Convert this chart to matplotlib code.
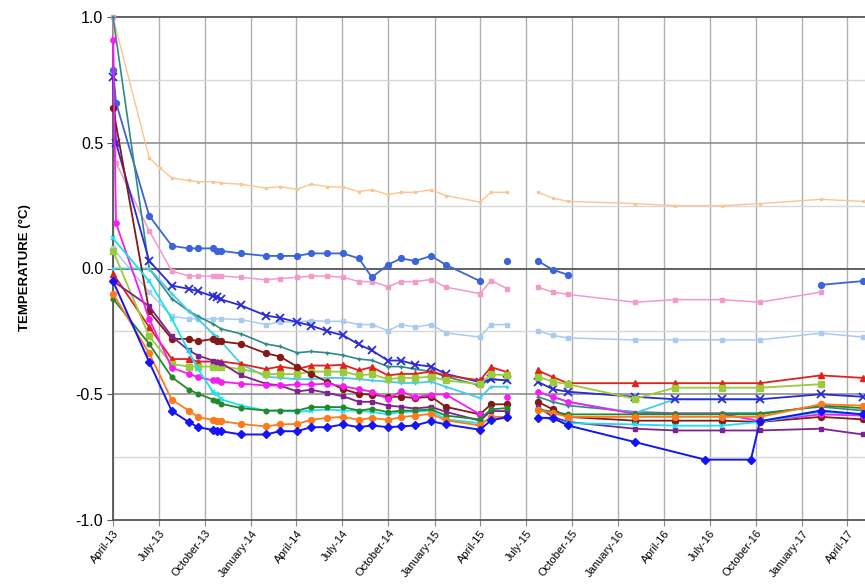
import numpy as np
import pandas as pd
import matplotlib
matplotlib.use('Agg')
import matplotlib.pyplot as plt

plt.rcParams['font.family'] = ['Liberation Sans', 'DejaVu Sans']
plt.rcParams['axes.unicode_minus'] = False

N = None          # no reading on that date (line joins across)
nan = np.nan      # break in the record (line stops)

# measurement dates
dates = pd.to_datetime([
    '2013-04-01', '2013-04-07', '2013-06-12', '2013-07-03', '2013-07-27', '2013-08-30',
    '2013-09-17', '2013-10-17', '2013-10-25', '2013-11-02', '2013-12-12', '2014-01-30',
    '2014-02-27', '2014-04-02', '2014-04-30', '2014-06-01', '2014-07-03', '2014-08-03',
    '2014-08-29', '2014-09-30', '2014-10-26', '2014-11-23', '2014-12-25', '2015-01-23',
    '2015-04-01', '2015-04-23', '2015-05-25', '2015-06-25', '2015-07-25', '2015-08-24',
    '2015-09-23', '2016-02-03', '2016-04-23', '2016-06-22', '2016-07-25', '2016-09-21',
    '2016-10-09', '2017-02-07', '2017-05-02'])

peach = [1.0, N, 0.44, 0.40, 0.36, 0.35, 0.345, 0.345, N, 0.34, 0.335, 0.32, 0.325, 0.315,
         0.335, 0.326, 0.323, 0.306, 0.313, 0.294, 0.303, 0.303, 0.313, 0.29, 0.264, 0.303,
         0.303, nan, 0.303, 0.28, 0.267, 0.258, 0.25, N, 0.25, N, 0.258, 0.275, 0.267]
blue_circ = [0.79, 0.66, 0.21, N, 0.09, 0.08, 0.08, 0.08, 0.07, 0.07, 0.06, 0.05, 0.05, 0.05,
             0.06, 0.06, 0.06, 0.04, -0.035, 0.015, 0.04, 0.03, 0.05, 0.015, -0.05, nan,
             0.03, nan, 0.03, -0.005, -0.025, nan, N, N, N, N, N, -0.065, -0.05]
pink = [1.0, 0.42, 0.15, N, -0.01, -0.03, -0.03, -0.03, -0.03, -0.03, -0.035, -0.045, -0.04,
        -0.035, -0.03, -0.03, -0.035, -0.052, -0.052, -0.072, -0.052, -0.052, -0.044, -0.074,
        -0.1, -0.048, -0.08, nan, -0.074, -0.094, -0.103, -0.134, -0.124, N, -0.124, N,
        -0.134, -0.094, nan]
light_blue = [0.08, N, -0.094, N, -0.19, -0.2, -0.2, -0.2, N, -0.2, -0.203, -0.223, -0.213,
              -0.213, -0.207, -0.21, -0.21, -0.223, -0.223, -0.247, -0.223, -0.233, -0.223,
              -0.256, -0.273, -0.223, -0.223, nan, -0.247, -0.266, -0.276, -0.284, -0.284, N,
              -0.284, N, -0.284, -0.257, -0.273]
blue_x = [0.76, 0.5, 0.03, N, -0.068, -0.081, -0.09, -0.111, -0.115, -0.123, -0.147, -0.187,
          -0.196, -0.213, -0.227, -0.249, -0.266, -0.302, -0.326, -0.366, -0.366, -0.382,
          -0.39, -0.419, -0.452, -0.44, -0.445, nan, -0.45, -0.48, -0.49, -0.51, -0.52, N,
          -0.52, N, -0.52, -0.50, -0.51]
teal = [1.0, N, 0.0, N, -0.12, -0.17, -0.19, -0.22, N, -0.24, -0.26, -0.3, -0.31, -0.335,
        -0.33, -0.335, -0.345, -0.36, -0.365, -0.39, -0.39, -0.4, -0.41, -0.43, -0.465, -0.44,
        -0.445, nan, -0.51, -0.53, -0.545, -0.57, -0.575, N, -0.575, N, -0.575, -0.55, -0.565]
cyan_a = [0.0, N, 0.0, N, -0.1, -0.17, -0.2, -0.26, -0.27, -0.29, -0.38, -0.43, -0.435, -0.44,
          -0.44, -0.435, -0.435, -0.44, -0.445, -0.45, -0.455, -0.455, -0.45, -0.47, -0.515,
          -0.47, -0.47, nan, -0.49, -0.51, -0.53, -0.575, -0.52, N, -0.52, N, -0.52, N, N]
cyan_b = [0.12, N, -0.05, N, -0.2, -0.33, -0.4, -0.49, -0.5, -0.52, -0.545, -0.565, -0.565,
          -0.57, -0.565, -0.56, -0.565, -0.565, -0.57, -0.58, -0.57, -0.57, -0.565, -0.6,
          -0.615, -0.595, -0.59, nan, -0.59, -0.6, -0.615, -0.62, -0.625, N, -0.625, N, -0.61,
          -0.57, -0.58]
red = [-0.02, N, -0.233, N, -0.36, -0.36, -0.37, -0.37, -0.37, -0.37, -0.38, -0.4, -0.39, -0.4,
       -0.386, -0.386, -0.383, -0.405, -0.392, -0.425, -0.419, -0.419, -0.41, -0.425, -0.445,
       -0.392, -0.412, nan, -0.405, -0.432, -0.456, -0.456, -0.456, N, -0.456, N, -0.456,
       -0.425, -0.435]
yellowgreen = [0.07, N, -0.27, N, -0.38, -0.39, -0.39, -0.39, -0.39, -0.39, -0.4, -0.42, -0.42,
               -0.42, -0.41, -0.41, -0.41, -0.425, -0.42, -0.44, -0.435, -0.435, -0.43, -0.445,
               -0.46, -0.42, -0.425, nan, -0.43, -0.45, -0.46, -0.518, -0.474, N, -0.474, N,
               -0.474, -0.46, nan]
maroon = [0.64, N, -0.17, N, -0.28, -0.28, -0.29, -0.28, -0.29, -0.29, -0.3, -0.337, -0.35,
          -0.39, -0.42, -0.45, -0.48, -0.498, -0.502, -0.51, -0.51, -0.515, -0.51, -0.55,
          -0.58, -0.54, -0.54, nan, -0.53, -0.56, -0.59, -0.605, -0.605, N, -0.605, N, -0.61,
          -0.59, -0.6]
purple = [-0.05, N, -0.15, N, -0.27, -0.326, -0.346, -0.366, -0.37, -0.375, -0.425, -0.458,
          -0.465, -0.489, -0.482, -0.495, -0.508, -0.53, -0.53, -0.545, -0.55, -0.557, -0.55,
          -0.57, -0.605, -0.567, -0.567, nan, -0.55, -0.59, -0.61, -0.637, -0.644, N, -0.644,
          N, -0.644, -0.637, -0.66]
magenta = [0.91, 0.18, -0.2, N, -0.395, -0.419, -0.432, -0.445, -0.445, -0.45, -0.458, -0.465,
           -0.465, -0.461, -0.461, -0.458, -0.468, -0.48, -0.49, -0.518, -0.488, -0.512,
           -0.501, -0.501, -0.58, nan, -0.512, nan, -0.49, -0.51, -0.53, -0.578, -0.578, N,
           -0.578, N, -0.607, -0.58, -0.585]
green = [-0.12, N, -0.3, N, -0.432, -0.482, -0.498, -0.521, -0.525, -0.538, -0.555, -0.565,
         -0.565, -0.565, -0.551, -0.551, -0.551, -0.565, -0.558, -0.571, -0.565, -0.565, -0.56,
         -0.585, -0.6, -0.56, -0.555, nan, -0.56, -0.57, -0.58, -0.58, -0.58, N, -0.58, N,
         -0.58, -0.545, -0.555]
orange = [-0.1, N, -0.337, N, -0.522, -0.565, -0.591, -0.602, -0.605, -0.607, -0.618, -0.628,
          -0.62, -0.618, -0.602, -0.594, -0.59, -0.602, -0.594, -0.602, -0.591, -0.585, -0.578,
          -0.604, -0.624, -0.59, -0.59, nan, -0.562, -0.575, -0.59, -0.59, -0.59, N, -0.59, N,
          -0.59, -0.54, -0.545]
blue_d = [-0.05, N, -0.372, N, -0.567, -0.611, -0.631, -0.642, -0.645, -0.647, -0.66, -0.66,
          -0.647, -0.647, -0.631, -0.631, -0.62, -0.631, -0.624, -0.631, -0.628, -0.624, -0.607,
          -0.62, -0.641, -0.604, -0.591, nan, -0.594, -0.594, -0.624, -0.69, N, -0.76, N, -0.76,
          -0.607, -0.565, -0.58]

tick_dates = pd.date_range('2013-04-01', '2017-04-01', freq='QS-APR')


def draw(ax, vals, color, marker, ms, lw=1.2, mew=1.0):
    x = [d for d, v in zip(dates, vals) if v is not None]
    y = [v for v in vals if v is not None]
    ax.plot(x, y, color=color, marker=marker, ms=ms, lw=lw, mew=mew,
            mec=color, mfc=color, clip_on=False, zorder=3)


fig = plt.figure(figsize=(8.65, 5.87), dpi=100)
ax = fig.add_axes([113 / 865, 1 - 520 / 587, 1 - 113 / 865, (520 - 17) / 587])

# grid
for d in tick_dates:
    ax.axvline(d, color='#B0B0B0', lw=1.0, zorder=1)
for yv in [0.75, 0.25, -0.25, -0.75]:
    ax.axhline(yv, color='#D8D8D8', lw=1.0, zorder=1)
for yv in [0.5, -0.5]:
    ax.axhline(yv, color='#909090', lw=1.2, zorder=1)
ax.axhline(0.0, color='#555555', lw=1.3, zorder=1)

draw(ax, peach, '#FBC593', 's', 1.8, lw=1.0)
draw(ax, light_blue, '#A9CBF2', 's', 2.2, lw=1.1)
draw(ax, pink, '#F19ACB', 's', 2.6, lw=1.1)
draw(ax, blue_circ, '#3B64DB', 'o', 4.2, lw=1.3)
draw(ax, teal, '#2E8A85', '+', 3.5, lw=1.2)
draw(ax, cyan_a, '#44CCEA', '+', 3, lw=1.3)
draw(ax, blue_x, '#2A2AD6', 'x', 6, lw=1.3, mew=1.3)
draw(ax, red, '#E3211C', '^', 4.3, lw=1.3)
draw(ax, yellowgreen, '#9BCB3B', 's', 4.3, lw=1.3)
draw(ax, maroon, '#861818', 'o', 4.3, lw=1.3)
draw(ax, purple, '#7E2290', 's', 3, lw=1.3)
draw(ax, magenta, '#F51EF0', 'o', 3.8, lw=1.3)
draw(ax, cyan_b, '#14E3F2', 'x', 3.5, lw=1.3, mew=1.2)
draw(ax, green, '#23882A', 'o', 3.3, lw=1.3)
draw(ax, orange, '#FF7A1A', 'o', 4.3, lw=1.3)
draw(ax, blue_d, '#1414F5', 'D', 4.3, lw=1.4)

ax.set_xlim(pd.Timestamp('2013-04-01'), pd.Timestamp('2017-05-06'))
ax.set_ylim(-1.0, 1.0)
ax.set_yticks([-1.0, -0.5, 0.0, 0.5, 1.0])
ax.set_yticklabels(['-1.0', '-0.5', '0.0', '0.5', '1.0'], fontsize=11.5)
ax.set_xticks(tick_dates)
ax.set_xticklabels([d.strftime('%B-%y') for d in tick_dates], rotation=52,
                   ha='right', rotation_mode='anchor', fontsize=8)
ax.tick_params(axis='x', length=4, color='#888888', pad=2)
ax.tick_params(axis='y', length=4, color='#555555', pad=3)

for s in ['top', 'bottom', 'left']:
    ax.spines[s].set_color('#555555')
    ax.spines[s].set_linewidth(1.3)
ax.spines['right'].set_visible(False)

fig.text(25 / 865, 1 - 268 / 587, 'TEMPERATURE (°C)', rotation=90, fontsize=9.5,
         fontweight='bold', ha='center', va='center')

plt.savefig('out.png', dpi=100)
